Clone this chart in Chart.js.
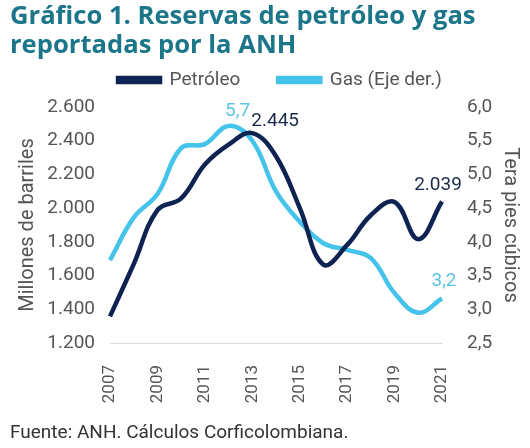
<!DOCTYPE html>
<html>
<head>
<meta charset="utf-8">
<script src="https://cdn.jsdelivr.net/npm/chart.js@4/dist/chart.umd.min.js"></script>
<style>
  body { margin: 0; background: #fff; }
  #wrap { width: 530px; height: 448px; }
</style>
</head>
<body>
<div id="wrap"><canvas id="reservasChart" width="530" height="448"></canvas></div>
<script>
"use strict";

// años del informe ANH
const years = ['2007', '2008', '2009', '2010', '2011', '2012', '2013', '2014',
               '2015', '2016', '2017', '2018', '2019', '2020', '2021'];
// millones de barriles
const petroleo = [1358, 1668, 1988, 2058, 2259, 2377, 2445, 2308,
                  2002, 1665, 1782, 1958, 2036, 1816, 2039];
// tera pies cúbicos (eje derecho)
const gas = [3.73, 4.36, 4.71, 5.39, 5.45, 5.72, 5.5, 4.75,
             4.3, 3.98, 3.88, 3.76, 3.24, 2.95, 3.16];
// etiquetas de datos: [serie, índice, texto]
const dataLabels = [
    [1, 5, '5,7'],
    [0, 6, '2.445'],
    [0, 14, '2.039'],
    [1, 14, '3,2']
];

const navy = '#0e2352';
const skyBlue = '#45c3ea';
const grey = '#555555';
const fontFamily = 'Roboto, "Noto Sans", sans-serif';

const fmtMiles = v => v.toLocaleString('de-DE');
const fmtDecimal = v => v.toFixed(1).replace('.', ',');

// dibuja las etiquetas de valor junto a los puntos
const valueLabels = {
    id: 'valueLabels',
    afterDatasetsDraw(chart) {
        const ctx = chart.ctx;
        const offsets = {
            '0-6': [-1, -12, 'left'],
            '0-14': [-4, -16, 'center'],
            '1-5': [9, -15, 'center'],
            '1-14': [2, -17, 'center']
        };
        ctx.save();
        ctx.font = '19px ' + fontFamily;
        ctx.textBaseline = 'middle';
        dataLabels.forEach(([ds, idx, text]) => {
            const pt = chart.getDatasetMeta(ds).data[idx];
            const off = offsets[ds + '-' + idx];
            ctx.fillStyle = ds === 0 ? '#1b2a47' : '#5cc4e4';
            ctx.textAlign = off[2];
            ctx.fillText(text, pt.x + off[0], pt.y + off[1]);
        });
        ctx.restore();
    }
};

// deja más aire bajo la leyenda y la corre un poco a la derecha
const legendGap = {
    id: 'legendGap',
    beforeInit(chart) {
        const originalFit = chart.legend.fit;
        chart.legend.fit = function fit() {
            originalFit.bind(chart.legend)();
            this.height = 74.5;
        };
    },
    afterLayout(chart) {
        chart.legend.left += 20;
    }
};

const ctx = document.getElementById('reservasChart').getContext('2d');
const chart = new Chart(ctx, {
    type: 'line',
    data: {
        labels: years,
        datasets: [{
            label: 'Petróleo',
            data: petroleo,
            borderColor: navy,
            backgroundColor: navy,
            borderWidth: 4.5,
            tension: 0.4,
            pointRadius: 0,
            yAxisID: 'y'
        }, {
            label: 'Gas (Eje der.)',
            data: gas,
            borderColor: skyBlue,
            backgroundColor: skyBlue,
            borderWidth: 4.5,
            tension: 0.4,
            pointRadius: 0,
            yAxisID: 'y1'
        }]
    },
    options: {
        responsive: false,
        animation: false,
        layout: { padding: { left: 10, right: 0, top: 0, bottom: 0 } },
        plugins: {
            title: {
                display: true,
                text: ['Gráfico 1. Reservas de petróleo y gas', 'reportadas por la ANH'],
                align: 'start',
                color: '#1c7689',
                font: { family: '"Open Sans", sans-serif', size: 25.6, weight: 'bold', lineHeight: 1.133 },
                padding: { top: 2.5, bottom: -28 }
            },
            subtitle: {
                display: true,
                position: 'bottom',
                align: 'start',
                text: 'Fuente: ANH. Cálculos Corficolombiana.',
                color: '#333333',
                font: { family: fontFamily, size: 19, lineHeight: 1.2 },
                padding: { top: 0, bottom: 3 }
            },
            legend: {
                display: true,
                position: 'top',
                labels: {
                    boxWidth: 42,
                    boxHeight: 4,
                    padding: 38,
                    color: grey,
                    font: { family: fontFamily, size: 19 }
                }
            },
            tooltip: { enabled: false }
        },
        scales: {
            x: {
                grid: { display: false, drawTicks: false },
                border: { display: true, color: '#dcdcdc', width: 1 },
                ticks: {
                    autoSkip: false,
                    minRotation: 90,
                    maxRotation: 90,
                    padding: 22,
                    color: grey,
                    font: { family: fontFamily, size: 17 },
                    callback: function (value, index) {
                        return index % 2 === 0 ? years[index] : '';
                    }
                },
                afterFit(scale) { scale.height = 79.2; }
            },
            y: {
                position: 'left',
                min: 1200,
                max: 2600,
                grid: { display: false, drawTicks: false },
                border: { display: false },
                ticks: {
                    stepSize: 200,
                    padding: 15,
                    color: grey,
                    font: { family: fontFamily, size: 19 },
                    callback: v => fmtMiles(v)
                },
                title: {
                    display: true,
                    text: 'Millones de barriles',
                    color: grey,
                    font: { family: fontFamily, size: 20, lineHeight: 1.2 },
                    padding: { top: 6, bottom: 0 }
                },
                afterFit(scale) { scale.width = 100; }
            },
            y1: {
                position: 'right',
                min: 2.5,
                max: 6,
                grid: { display: false, drawTicks: false },
                border: { display: false },
                ticks: {
                    stepSize: 0.5,
                    padding: 25,
                    color: grey,
                    font: { family: fontFamily, size: 19 },
                    callback: v => fmtDecimal(v)
                },
                title: {
                    display: true,
                    text: 'Tera pies cúbicos',
                    color: grey,
                    font: { family: fontFamily, size: 20, lineHeight: 1.2 },
                    padding: { top: 8, bottom: 0 }
                },
                afterFit(scale) { scale.width = 88; }
            }
        }
    },
    plugins: [valueLabels, legendGap]
});
</script>
</body>
</html>
